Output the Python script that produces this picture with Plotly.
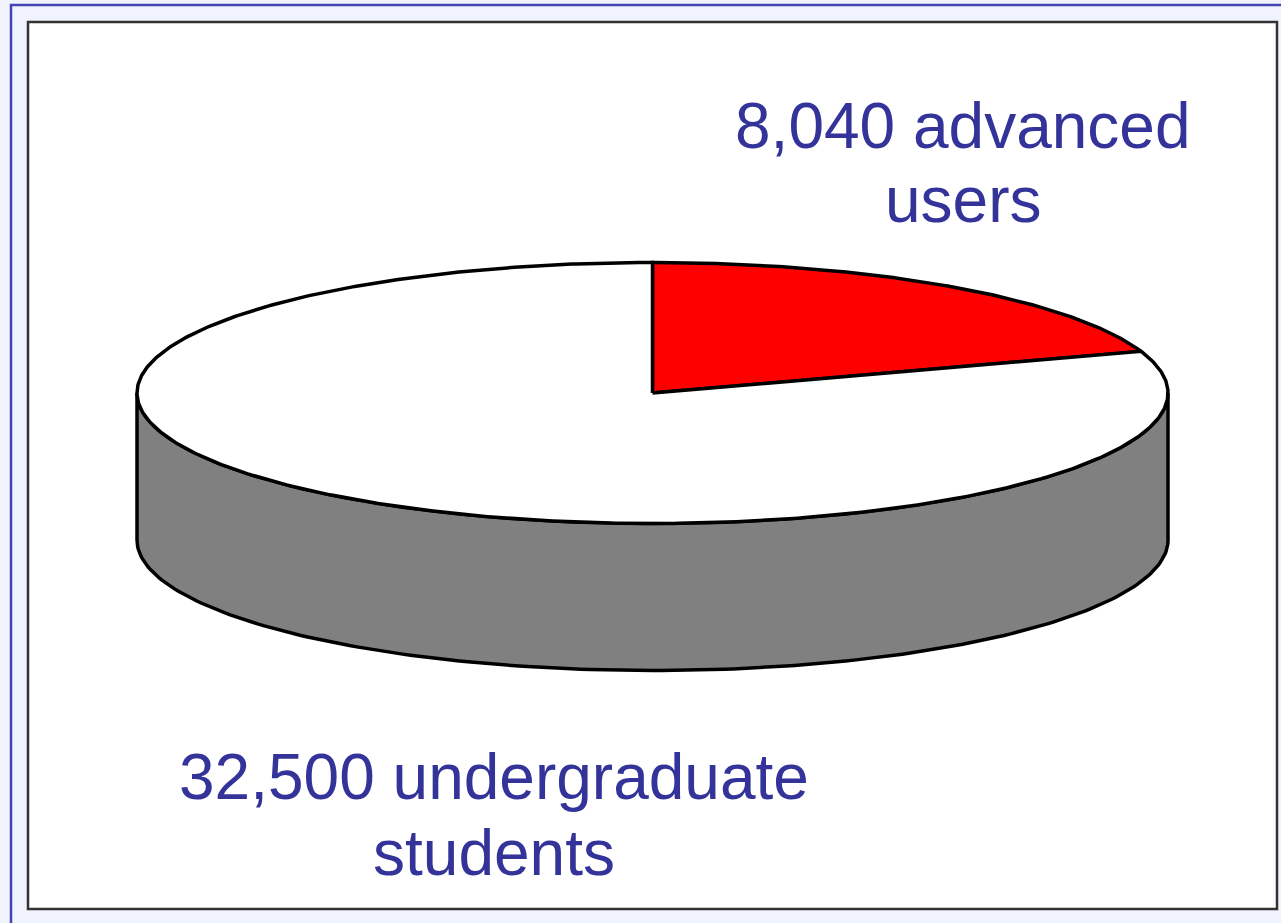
import numpy as np
import plotly.graph_objects as go

# ---- data ----
categories = ["advanced users", "undergraduate students"]
values = [8040, 32500]
slice_colors = ["#ff0000", "#ffffff"]
label_lines = [["8,040 advanced", "users"], ["32,500 undergraduate", "students"]]

# ---- geometry (pixel space) ----
W, H = 1281, 923
cx, cy, rx, ry, depth = 652.5, 393.0, 515.5, 130.5, 147.0
side_color = "#808080"
text_color = "#333399"
font_family = "Liberation Sans, Arial, sans-serif"


def pt(phi_deg, dy=0.0):
    p = np.radians(phi_deg)
    return cx + rx * np.sin(p), cy - ry * np.cos(p) + dy


fig = go.Figure()

# side wall (front visible half, from 3 o'clock to 9 o'clock through bottom)
phis = np.linspace(90, 270, 181)
tx, ty = pt(phis)
bx, by = pt(phis[::-1], depth)
fig.add_trace(go.Scatter(
    x=np.concatenate([tx, bx, tx[:1]]), y=np.concatenate([ty, by, ty[:1]]),
    mode="lines", fill="toself", fillcolor=side_color,
    line=dict(color="black", width=3.5), hoverinfo="skip", showlegend=False))

# top slices
total = sum(values)
start = 0.0
for cat, v, col in zip(categories, values, slice_colors):
    span = v / total * 360.0
    ph = np.linspace(start, start + span, max(int(span * 2), 4))
    sx, sy = pt(ph)
    xs = np.concatenate([[cx], sx, [cx]])
    ys = np.concatenate([[cy], sy, [cy]])
    fig.add_trace(go.Scatter(
        x=xs, y=ys, mode="lines", fill="toself", fillcolor=col,
        line=dict(color="black", width=3.5), name=cat,
        hoverinfo="name", showlegend=False))
    start += span

# labels
label_pos = [(963, [126, 200]), (494, [777, 853])]
for lines, (lx, lys) in zip(label_lines, label_pos):
    for line, ly in zip(lines, lys):
        fig.add_annotation(x=lx, y=ly, xref="x", yref="y", text=line,
                           showarrow=False, xanchor="center", yanchor="middle",
                           font=dict(family=font_family, size=64, color=text_color))

shapes = [
    dict(type="rect", xref="x", yref="y", x0=11, y0=5, x1=1300, y1=1000,
         line=dict(color="#4444b0", width=2.5), fillcolor="rgba(0,0,0,0)", layer="below"),
    dict(type="rect", xref="x", yref="y", x0=28, y0=22, x1=1277, y1=909,
         line=dict(color="#333333", width=2.5), fillcolor="white", layer="below"),
]

fig.update_layout(
    width=W, height=H,
    margin=dict(l=0, r=0, t=0, b=0),
    paper_bgcolor="#f0f2fe", plot_bgcolor="rgba(0,0,0,0)",
    xaxis=dict(range=[0, W], visible=False, fixedrange=True),
    yaxis=dict(range=[H, 0], visible=False, fixedrange=True),
    shapes=shapes, showlegend=False,
)

fig.write_html(
    "out.html",
    config={"displayModeBar": False},
    post_script="document.body.style.margin='0';document.body.style.overflow='hidden';"
                "document.body.style.background='#f0f2fe';",
)
